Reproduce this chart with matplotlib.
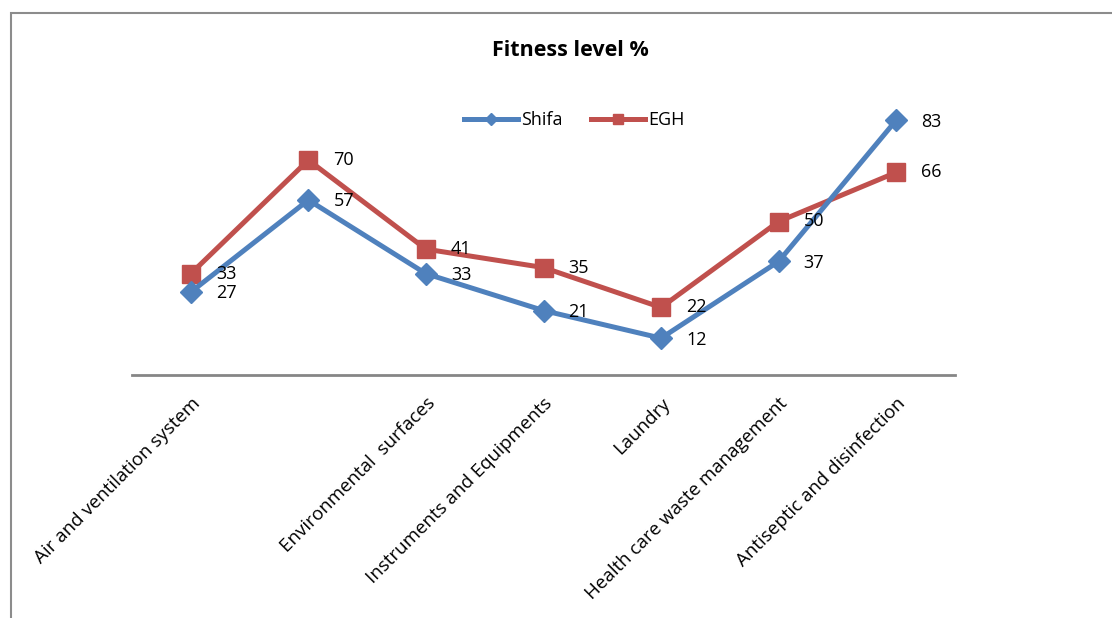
import matplotlib.pyplot as plt
from matplotlib.patches import Rectangle

plt.rcParams['font.family'] = ['Open Sans', 'DejaVu Sans']

categories = ["Air and ventilation system", "", "Environmental  surfaces",
              "Instruments and Equipments", "Laundry",
              "Health care waste management", "Antiseptic and disinfection"]
shifa = [27, 57, 33, 21, 12, 37, 83]
egh = [33, 70, 41, 35, 22, 50, 66]

blue = '#4F81BD'
red = '#C0504D'

fig = plt.figure(figsize=(11.12, 6.18), dpi=100)

# chart frame (Excel style border)
fig.patches.append(Rectangle((11 / 1112, -0.1), 1.2, 0.1 + (618 - 13) / 618,
                             transform=fig.transFigure, fill=False,
                             edgecolor='#8c8c8c', linewidth=1.5))

ax = fig.add_axes([132 / 1112, (618 - 375) / 618, (955 - 132) / 1112, (375 - 68) / 618])
x = list(range(len(categories)))

ax.plot(x, shifa, color=blue, lw=3.6, marker='D', ms=11, label='Shifa', zorder=3)
ax.plot(x, egh, color=red, lw=3.6, marker='s', ms=13, label='EGH', zorder=2)

for xi, v in zip(x, shifa):
    ax.annotate(str(v), (xi, v), xytext=(18, -1), textcoords='offset points',
                fontsize=13, va='center', ha='left')
for xi, v in zip(x, egh):
    ax.annotate(str(v), (xi, v), xytext=(18, 0), textcoords='offset points',
                fontsize=13, va='center', ha='left')

ax.set_xlim(-0.5, len(categories) - 0.5)
ax.set_ylim(0, 100)
for s in ['top', 'right', 'left']:
    ax.spines[s].set_visible(False)
ax.spines['bottom'].set_color('#868686')
ax.spines['bottom'].set_linewidth(2)
ax.set_yticks([])
ax.set_xticks(x)
ax.set_xticklabels(categories, rotation=45, ha='right', va='top',
                   rotation_mode='anchor', fontsize=13.5)
ax.tick_params(axis='x', length=0, pad=14)

fig.text(570 / 1112, 1 - 50 / 618, 'Fitness level %', ha='center', va='center',
         fontsize=15.5, fontweight='bold')

fig.legend(loc='center', bbox_to_anchor=(574 / 1112, 1 - 120 / 618), ncol=2,
           frameon=False, fontsize=13, handlelength=3.0, handletextpad=0.15,
           columnspacing=1.6, markerscale=0.6)

fig.savefig('out.png', dpi=100)
